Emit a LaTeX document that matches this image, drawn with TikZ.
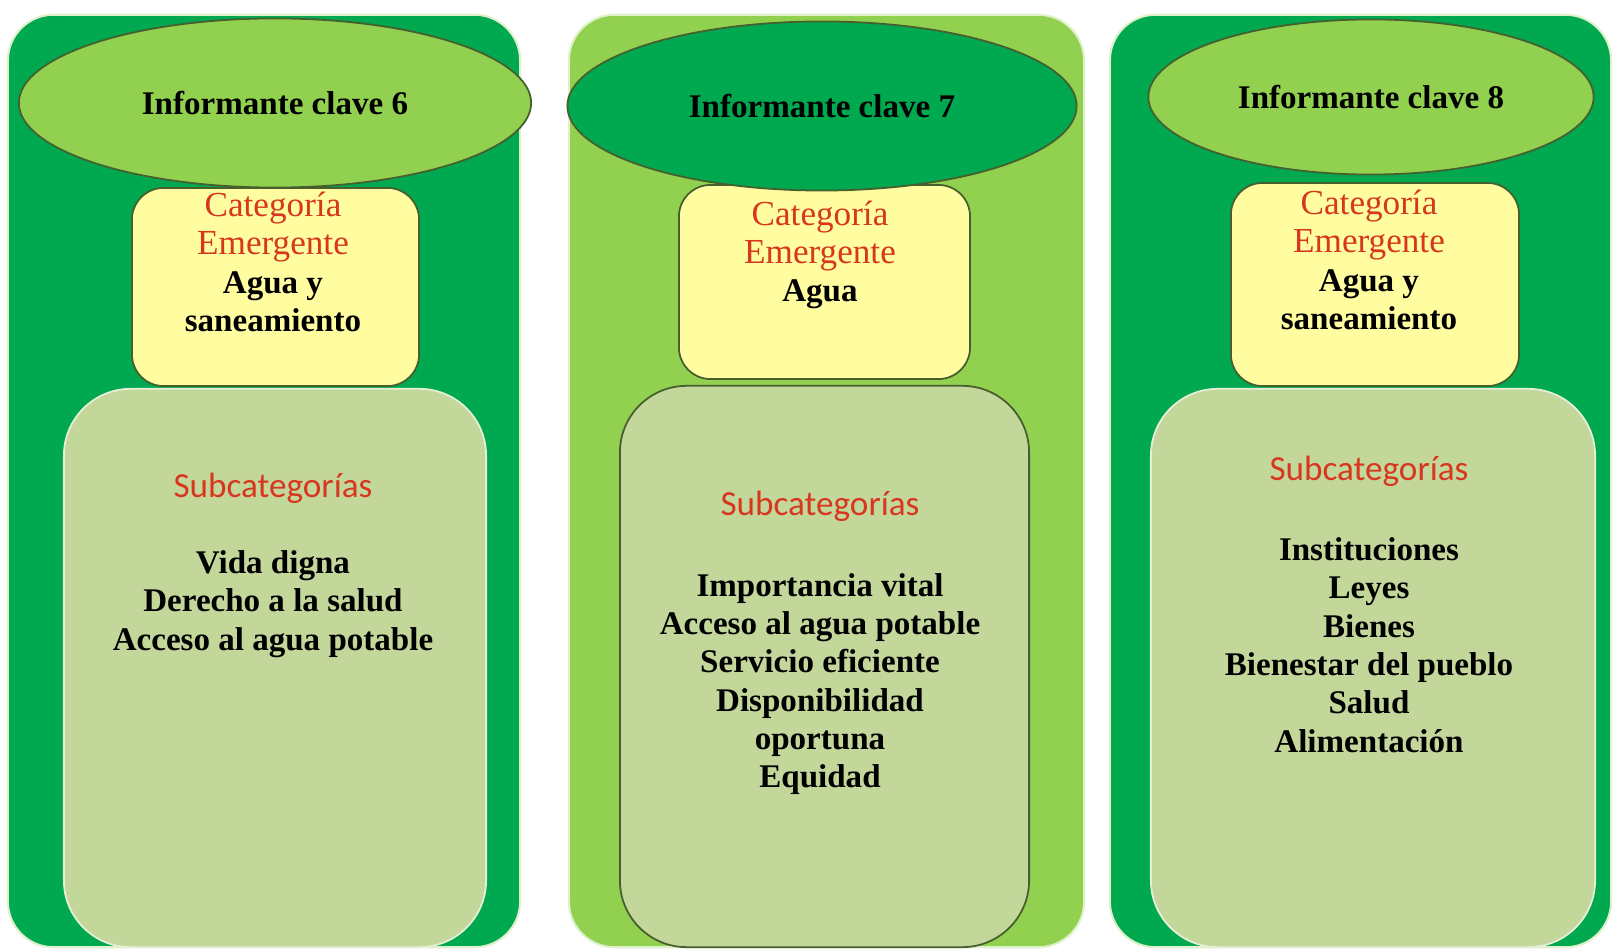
\documentclass[tikz,border=0pt]{standalone}
\usepackage{fontspec}
\setmainfont{Liberation Serif}
\newfontfamily\subfont{Carlito}
\usetikzlibrary{shapes.geometric}
\definecolor{darkgreen}{RGB}{0,168,80}
\definecolor{lightgreen}{RGB}{146,208,80}
\definecolor{paleyellow}{RGB}{255,253,160}
\definecolor{sage}{RGB}{196,215,155}
\definecolor{edgegreen}{RGB}{70,95,45}
\definecolor{catred}{RGB}{215,55,30}
\newcommand{\redtxt}[1]{{\mdseries\fontsize{10}{10.9}\selectfont\color{catred}#1}}

\begin{document}
\begin{tikzpicture}[x=0.01cm, y=-0.01cm,
    panel/.style={rectangle, rounded corners=13pt, draw=white!70!lightgreen, line width=0.6pt, minimum height=9.32cm},
    oval/.style={ellipse, draw=edgegreen, line width=0.5pt, minimum height=1.69cm, font=\fontsize{9.4}{10.9}\selectfont\bfseries},
    catbox/.style={rectangle, rounded corners=9pt, fill=paleyellow, draw=edgegreen, line width=0.5pt},
    subbox/.style={rectangle, rounded corners=19pt, fill=sage, draw=edgegreen, line width=0.5pt},
    txt/.style={align=center, font=\fontsize{9.4}{10.9}\selectfont\bfseries},
    subtitle/.style={font=\subfont\fontsize{10}{12}\selectfont, text=catred},
]
    \useasboundingbox (0,0) rectangle (1614,952);
    % outer panels
    \node[panel, fill=darkgreen, minimum width=5.12cm] (p6) at (264,481) {};
    \node[panel, fill=lightgreen, minimum width=5.15cm] (p7) at (826.5,481) {};
    \node[panel, fill=darkgreen, minimum width=5.01cm] (p8) at (1360.5,481) {};
    % subcategory boxes
    \node[subbox, draw=white!60!sage, minimum width=4.22cm, minimum height=5.58cm] (s6) at (275,668) {};
    \node[subbox, minimum width=4.09cm, minimum height=5.61cm] (s7) at (824.5,666.5) {};
    \node[subbox, draw=white!60!sage, minimum width=4.44cm, minimum height=5.58cm] (s8) at (1373,668) {};
    % emergent category boxes
    \node[catbox, minimum width=2.87cm, minimum height=1.98cm] (c6) at (275.5,287) {};
    \node[catbox, minimum width=2.91cm, minimum height=1.94cm] (c7) at (824.5,282) {};
    \node[catbox, minimum width=2.88cm, minimum height=2.03cm] (c8) at (1375,284.5) {};
    % informants
    \node[oval, fill=lightgreen, minimum width=5.12cm] (e6) at (275,103) {Informante clave 6};
    \node[oval, fill=darkgreen, minimum width=5.09cm] (e7) at (822,106) {Informante clave 7};
    \node[oval, fill=lightgreen, minimum width=4.45cm, minimum height=1.55cm] (e8) at (1371,97) {Informante clave 8};
    % texts
    \node[txt] (t6) at (273,262) {\redtxt{Categoría}\\\redtxt{Emergente}\\Agua y\\saneamiento};
    \node[txt] (t7) at (820,255) {\redtxt{Categoría}\\\redtxt{Emergente}\\Agua};
    \node[txt] (t8) at (1369,260) {\redtxt{Categoría}\\\redtxt{Emergente}\\Agua y\\saneamiento};
    \node[subtitle] (h6) at (273,488) {Subcategorías};
    \node[subtitle] (h7) at (820,506) {Subcategorías};
    \node[subtitle] (h8) at (1369,471) {Subcategorías};
    \node[txt] (l6) at (273,604) {Vida digna\\Derecho a la salud\\Acceso al agua potable};
    \node[txt] (l7) at (820,684) {Importancia vital\\Acceso al agua potable\\Servicio eficiente\\Disponibilidad\\oportuna\\Equidad};
    \node[txt] (l8) at (1369,645) {Instituciones\\Leyes\\Bienes\\Bienestar del pueblo\\Salud\\Alimentación};
\end{tikzpicture}
\end{document}
